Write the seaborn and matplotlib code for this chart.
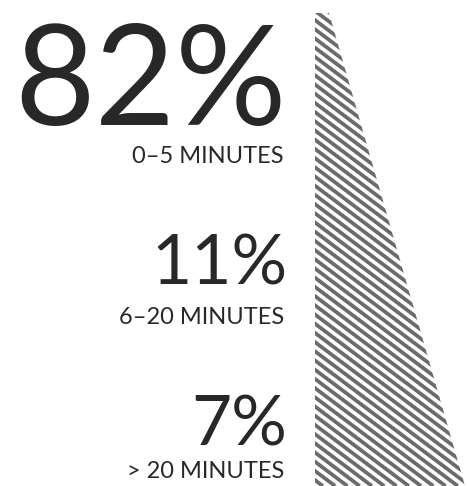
import matplotlib
matplotlib.use("Agg")
import matplotlib.pyplot as plt
from matplotlib.patches import Polygon
import numpy as np
import seaborn as sns

# Valeurs
shares = ["82%", "11%", "7%"]
durations = ["0–5 MINUTES", "6–20 MINUTES", "> 20 MINUTES"]

# Forme du coin hachure (en pixels de la figure, axe y inverse)
wedge_y = [13, 486]
wedge_left = [315, 315]
wedge_right = [329, 465]

sns.set_theme(style="white")
plt.rcParams["font.family"] = ["Lato", "DejaVu Sans"]

ink = "#282828"
stripe = "#6b6b6b"

fig = plt.figure(figsize=(4.67, 4.86), dpi=100)
ax = fig.add_axes([0, 0, 1, 1])
ax.set_xlim(0, 467)
ax.set_ylim(486, 0)
ax.axis("off")

# coin : contour invisible, sert de masque aux rayures
verts = [(wedge_left[0], wedge_y[0]), (wedge_right[0], wedge_y[0]),
         (wedge_right[1], wedge_y[1]), (wedge_left[1], wedge_y[1])]
wedge = Polygon(verts, closed=True, facecolor="white", edgecolor="none")
ax.add_patch(wedge)

# rayures diagonales (pente ~37 degres, pas vertical ~9 px)
slope = 0.75
step = 9.2
x0 = wedge_left[0]
y_start = wedge_y[0] - slope * (wedge_right[1] - x0) - step
for y0 in np.arange(y_start, wedge_y[1] + step, step):
    ln = ax.axline((x0, y0), slope=slope, color=stripe, linewidth=2.7,
                   solid_capstyle="butt")
    ln.set_clip_path(wedge)

# grands pourcentages + libelles
big_sizes = [100, 50, 50]
big_base = [125, 284, 445]
small_base = [163, 324, 478]
for pct, lab, fs, yb, ys in zip(shares, durations, big_sizes, big_base, small_base):
    ax.text(287, yb, pct, ha="right", va="baseline", fontsize=fs, color=ink)
    ax.text(284, ys, lab, ha="right", va="baseline", fontsize=17, color=ink)

fig.savefig("out.png", dpi=100)
